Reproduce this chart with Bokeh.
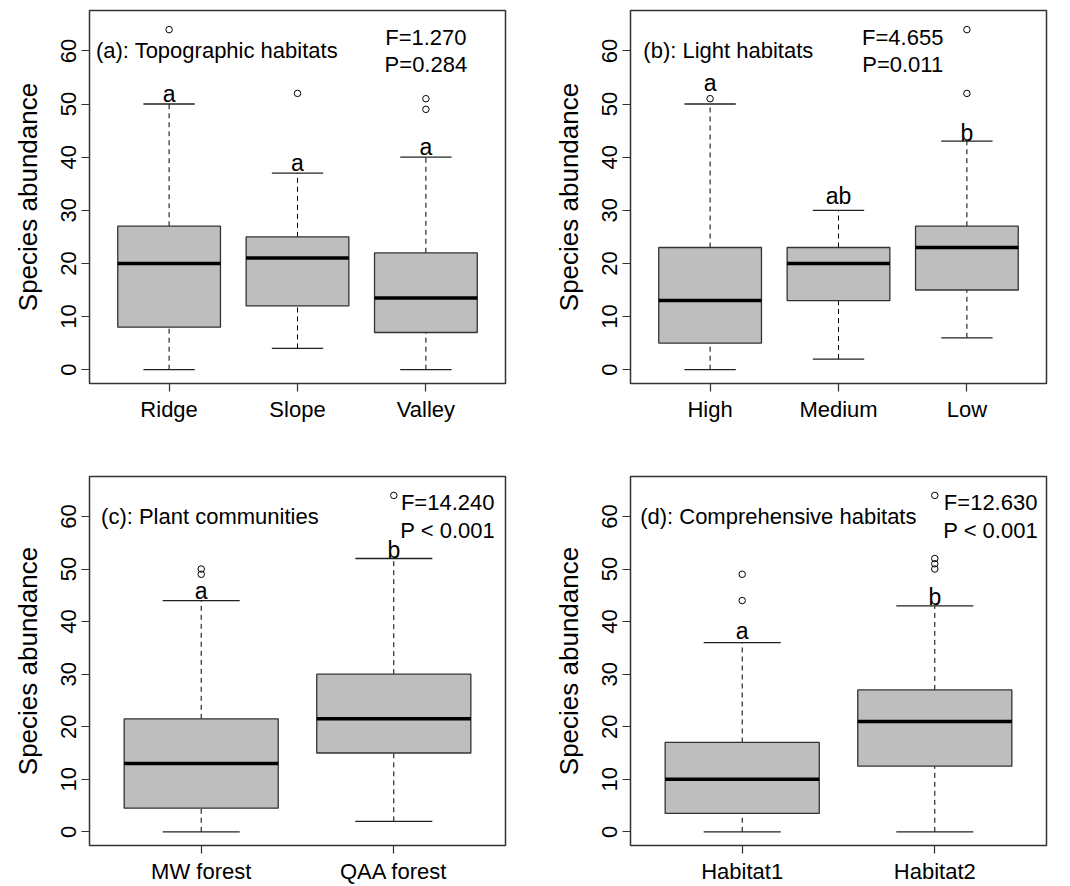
from bokeh.plotting import figure
from bokeh.layouts import column, row
from bokeh.models import Range1d, FixedTicker, ColumnDataSource
from bokeh.core.properties import value
from bokeh.embed import file_html
from bokeh.resources import INLINE

FONT = "Liberation Sans"

# ---------------- data ----------------
# (a) Topographic habitats
topo_cats = ["Ridge", "Slope", "Valley"]
topo_low = [0, 4, 0]
topo_q1 = [8, 12, 7]
topo_med = [20, 21, 13.5]
topo_q3 = [27, 25, 22]
topo_high = [50, 37, 40]
topo_out = [[64], [52], [49, 51]]
topo_letters = ["a", "a", "a"]
topo_letter_y = [51.8, 38.9, 42.0]
topo_stats = ["F=1.270", "P=0.284"]

# (b) Light habitats
light_cats = ["High", "Medium", "Low"]
light_low = [0, 2, 6]
light_q1 = [5, 13, 15]
light_med = [13, 20, 23]
light_q3 = [23, 23, 27]
light_high = [50, 30, 43]
light_out = [[51], [], [52, 64]]
light_letters = ["a", "ab", "b"]
light_letter_y = [54.0, 32.6, 44.6]
light_stats = ["F=4.655", "P=0.011"]

# (c) Plant communities
plant_cats = ["MW forest", "QAA forest"]
plant_low = [0, 2]
plant_q1 = [4.5, 15]
plant_med = [13, 21.5]
plant_q3 = [21.5, 30]
plant_high = [44, 52]
plant_out = [[49, 50], [64]]
plant_letters = ["a", "b"]
plant_letter_y = [45.9, 53.7]
plant_stats = ["F=14.240", "P < 0.001"]

# (d) Comprehensive habitats
comp_cats = ["Habitat1", "Habitat2"]
comp_low = [0, 0]
comp_q1 = [3.5, 12.5]
comp_med = [10, 21]
comp_q3 = [17, 27]
comp_high = [36, 43]
comp_out = [[44, 49], [50, 51, 52, 64]]
comp_letters = ["a", "b"]
comp_letter_y = [38.2, 44.6]
comp_stats = ["F=12.630", "P < 0.001"]

y_ticks = [0, 10, 20, 30, 40, 50, 60]
Y_LIM = (0, 65)


def make_panel(cats, low, q1, med, q3, high, outliers, letters, letter_y,
               title, title_x, stats, stats_x, width, height, borders):
    n = len(cats)
    xs = list(range(1, n + 1))
    pad_x = 0.04 * n
    pad_y = 0.04 * (Y_LIM[1] - Y_LIM[0])
    p = figure(width=width, height=height, output_backend="svg",
               toolbar_location=None,
               x_range=Range1d(0.5 - pad_x, n + 0.5 + pad_x),
               y_range=Range1d(Y_LIM[0] - pad_y, Y_LIM[1] + pad_y),
               min_border_left=borders[0], min_border_right=borders[1],
               min_border_top=borders[2], min_border_bottom=borders[3])
    p.grid.visible = False
    p.outline_line_color = "#333333"
    p.outline_line_width = 1.5
    p.background_fill_color = "white"
    p.border_fill_color = "white"

    bw = 0.4
    cw = 0.2
    src = ColumnDataSource(dict(
        x=xs, l=[x - bw for x in xs], r=[x + bw for x in xs],
        cl=[x - cw for x in xs], cr=[x + cw for x in xs],
        low=low, q1=q1, med=med, q3=q3, high=high))

    # whiskers (dashed)
    p.segment(x0="x", y0="q3", x1="x", y1="high", source=src,
              line_color="black", line_width=1, line_dash="5 4")
    p.segment(x0="x", y0="low", x1="x", y1="q1", source=src,
              line_color="black", line_width=1, line_dash="5 4")
    # caps
    p.segment(x0="cl", y0="high", x1="cr", y1="high", source=src,
              line_color="#222222", line_width=1.3)
    p.segment(x0="cl", y0="low", x1="cr", y1="low", source=src,
              line_color="#222222", line_width=1.3)
    # boxes
    p.quad(left="l", right="r", bottom="q1", top="q3", source=src,
           fill_color="#BEBEBE", line_color="#333333", line_width=1.3)
    # medians
    p.segment(x0="l", y0="med", x1="r", y1="med", source=src,
              line_color="black", line_width=3.5)
    # outliers
    ox, oy = [], []
    for x, vals in zip(xs, outliers):
        for v in vals:
            ox.append(x)
            oy.append(v)
    p.scatter(ox, oy, marker="circle", size=6.5, fill_color=None,
              line_color="black", line_width=1)

    # significance letters
    p.text(x=xs, y=letter_y, text=letters, text_font=value(FONT),
           text_font_size="23px", text_align="center",
           text_baseline="middle", text_color="black")

    # title
    p.text(x=[title_x], y=[60], text=[title], text_font=value(FONT),
           text_font_size="22px", text_align="left",
           text_baseline="middle", text_color="black")
    # stats
    p.text(x=[stats_x, stats_x], y=[60, 60], text=stats,
           y_offset=[-13.6, 13.6], text_font=value(FONT),
           text_font_size="22px", text_align="center",
           text_baseline="middle", text_color="black")

    # axes
    p.xaxis.ticker = FixedTicker(ticks=xs)
    p.xaxis.major_label_overrides = {x: c for x, c in zip(xs, cats)}
    p.yaxis.ticker = FixedTicker(ticks=y_ticks)
    p.yaxis.major_label_orientation = "vertical"
    p.yaxis.axis_label = "Species abundance"
    p.yaxis.axis_label_text_font = FONT
    p.yaxis.axis_label_text_font_size = "26px"
    p.yaxis.axis_label_text_font_style = "normal"
    p.yaxis.axis_label_text_color = "black"
    p.yaxis.axis_label_standoff = 16
    p.yaxis.major_label_standoff = 5
    p.xaxis.major_label_standoff = 5
    for ax in (p.xaxis, p.yaxis):
        ax.axis_line_color = None
        ax.major_tick_line_color = "#333333"
        ax.major_tick_line_width = 1.2
        ax.major_tick_out = 8
        ax.major_tick_in = 0
        ax.minor_tick_line_color = None
        ax.major_label_text_font = FONT
        ax.major_label_text_font_size = "22px"
        ax.major_label_text_color = "black"
    return p


pa = make_panel(topo_cats, topo_low, topo_q1, topo_med, topo_q3, topo_high,
                topo_out, topo_letters, topo_letter_y,
                "(a): Topographic habitats", 0.43, topo_stats, 3,
                535, 443, (89, 30, 10, 60))
pb = make_panel(light_cats, light_low, light_q1, light_med, light_q3, light_high,
                light_out, light_letters, light_letter_y,
                "(b): Light habitats", 0.48, light_stats, 2.5,
                535, 443, (95, 24, 10, 60))
pc = make_panel(plant_cats, plant_low, plant_q1, plant_med, plant_q3, plant_high,
                plant_out, plant_letters, plant_letter_y,
                "(c): Plant communities", 0.48, plant_stats, 2.28,
                535, 443, (89, 30, 33, 37))
pd = make_panel(comp_cats, comp_low, comp_q1, comp_med, comp_q3, comp_high,
                comp_out, comp_letters, comp_letter_y,
                "(d): Comprehensive habitats", 0.47, comp_stats, 2.29,
                535, 443, (95, 24, 33, 37))

layout = column(row(pa, pb), row(pc, pd))
open("out.html", "w").write(file_html(layout, INLINE))
